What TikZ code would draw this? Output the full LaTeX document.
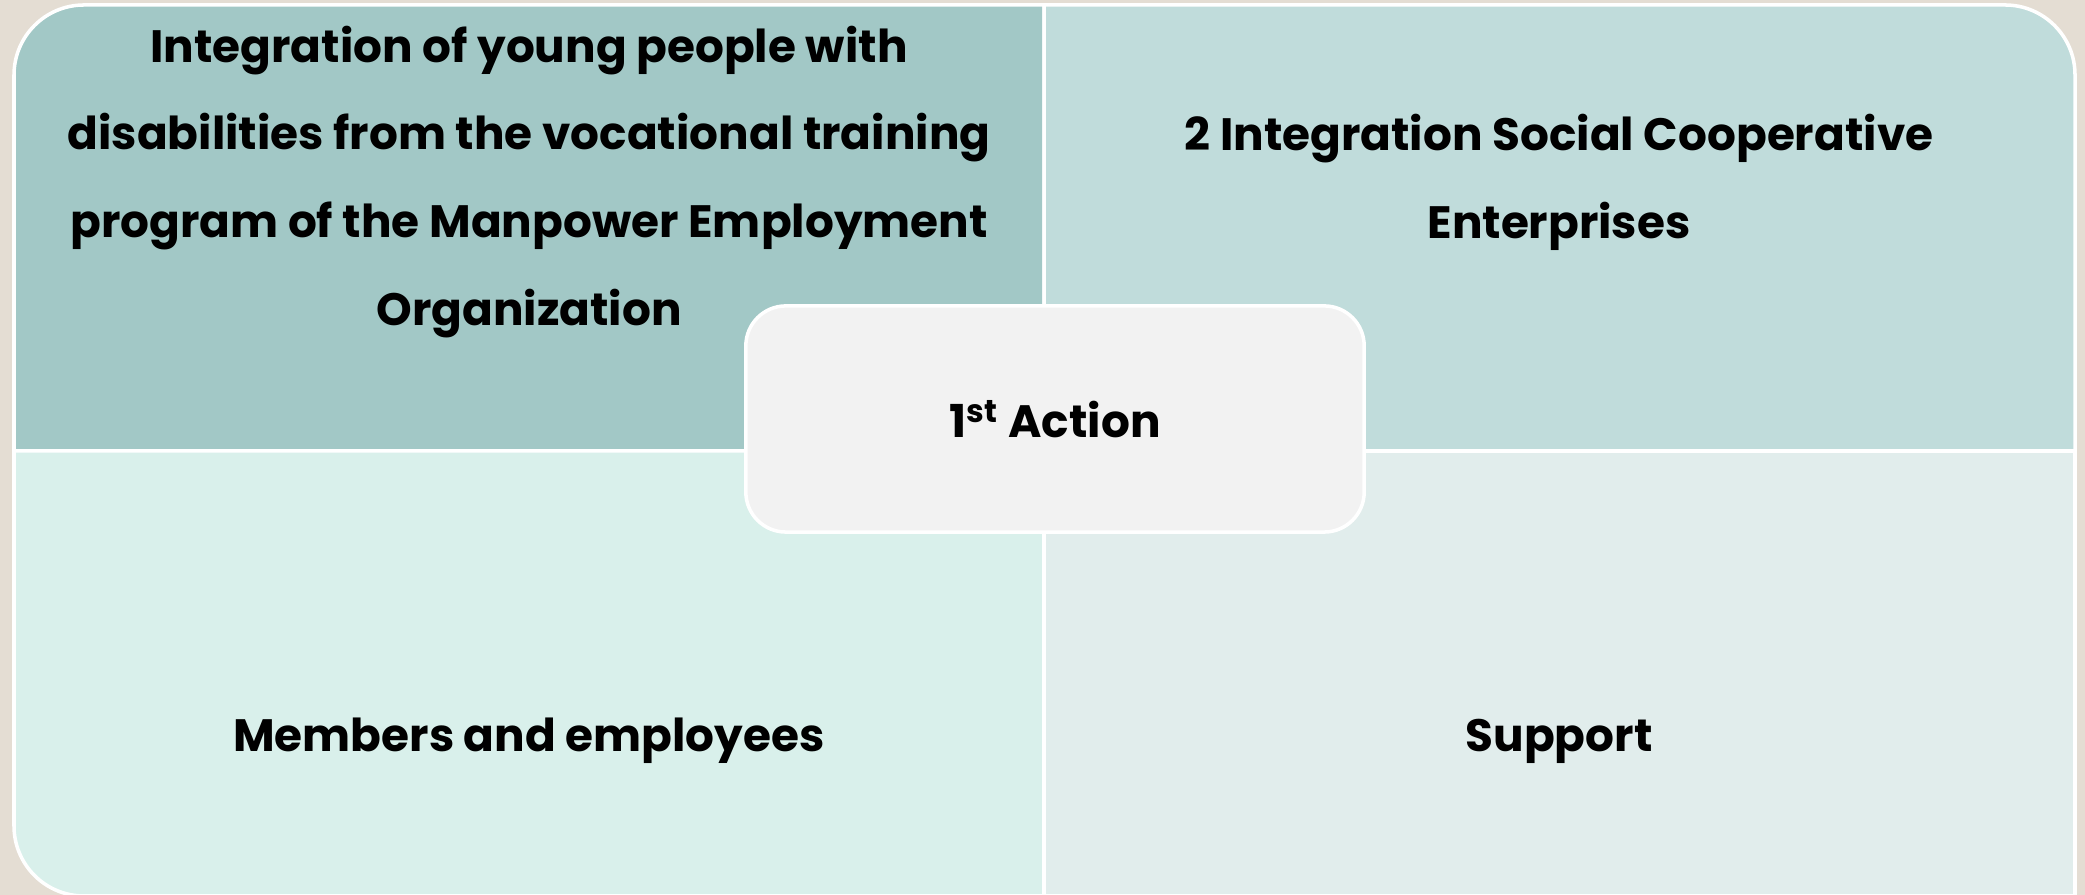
\documentclass[tikz,border=0pt]{standalone}
\usepackage{fontspec}
\setmainfont{Poppins}
\usetikzlibrary{positioning}
\definecolor{pagebeige}{HTML}{E4DDD3}
\definecolor{tealdark}{HTML}{A2C8C6}
\definecolor{tealmid}{HTML}{C0DCDB}
\definecolor{mintpale}{HTML}{D9F0EB}
\definecolor{greypale}{HTML}{E1EDEC}
\definecolor{actiongrey}{HTML}{F2F2F2}
\begin{document}
\begin{tikzpicture}[x=0.01cm,y=0.01cm,
	cell/.style={draw=white,line width=1pt},
	celltext/.style={font=\bfseries\fontsize{12.9}{25}\selectfont,align=center,text=black},
	actionbox/.style={cell,fill=actiongrey,rounded corners=0.4cm,minimum width=6.18cm,minimum height=2.26cm,celltext}]
	\useasboundingbox (0,0) rectangle (2085,895);
	\fill[pagebeige] (0,0) rectangle (2085,895);
	% four quadrants
	\draw[cell,fill=tealdark] (1044,444) -- (14,444) -- (14,820) arc[start angle=180,end angle=90,radius=70] -- (1044,890) -- cycle;
	\draw[cell,fill=tealmid] (1044,444) -- (1044,890) -- (2005,890) arc[start angle=90,end angle=0,radius=70] -- (2075,444) -- cycle;
	\draw[cell,fill=mintpale] (1044,444) -- (14,444) -- (14,69) arc[start angle=180,end angle=270,radius=70] -- (1044,-1) -- cycle;
	\draw[cell,fill=greypale] (1044,-1) rectangle (2075,444);
	% texts
	\node[celltext] (integ) at (529,713) {Integration of young people with\\disabilities from the vocational training\\program of the Manpower Employment\\Organization};
	\node[celltext] (coop) at (1559,713) {2 Integration Social Cooperative\\Enterprises};
	\node[celltext] (members) at (529,154) {Members and employees};
	\node[celltext] (support) at (1559,154) {Support};
	% centre
	\node[actionbox] (action) at (1055,476) {1\textsuperscript{st} Action};
\end{tikzpicture}
\end{document}
